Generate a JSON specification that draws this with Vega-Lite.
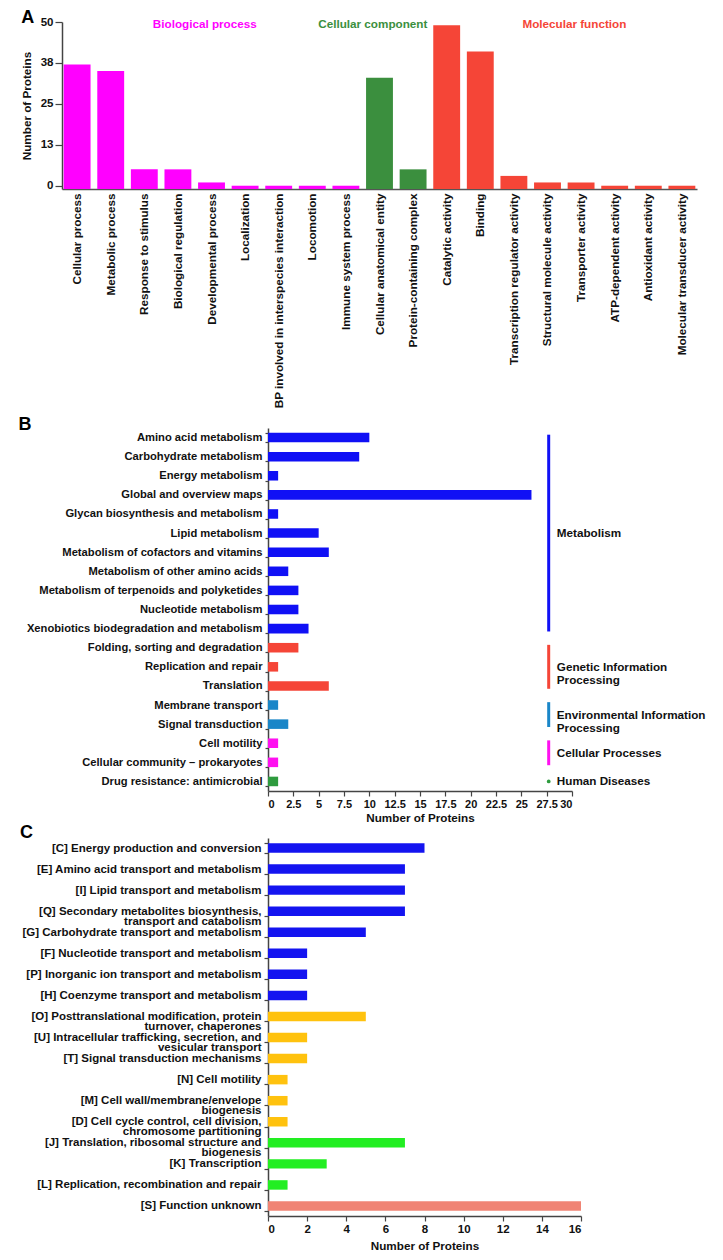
{
  "$schema": "https://vega.github.io/schema/vega-lite/v6.json",
  "padding": {"left": 18, "top": 9, "right": 4, "bottom": 4},
  "spacing": 8,
  "resolve": {"scale": {"color": "independent", "x": "independent", "y": "independent"}},
  "config": {
    "font": "Liberation Sans",
    "view": {"stroke": null},
    "axis": {
      "grid": false,
      "labelFont": "Liberation Sans",
      "labelFontWeight": "bold",
      "labelFontSize": 11.5,
      "labelColor": "#111111",
      "labelLimit": 400,
      "titleFont": "Liberation Sans",
      "titleFontWeight": "bold",
      "titleFontSize": 11.7,
      "titleColor": "#111111",
      "domainColor": "#444444",
      "tickColor": "#444444",
      "domainWidth": 1.5,
      "tickWidth": 1.2
    },
    "title": {
      "font": "Liberation Sans",
      "fontSize": 18,
      "fontWeight": "bold",
      "color": "#000000",
      "anchor": "start",
      "frame": "bounds",
      "baseline": "alphabetic"
    }
  },
  "vconcat": [
    {
      "title": {"text": "A", "offset": -11},
      "width": 635,
      "height": 167,
      "data": {
        "values": [
          {"term": "Cellular process", "count": 37, "category": "Biological process"},
          {"term": "Metabolic process", "count": 35, "category": "Biological process"},
          {"term": "Response to stimulus", "count": 5, "category": "Biological process"},
          {"term": "Biological regulation", "count": 5, "category": "Biological process"},
          {"term": "Developmental process", "count": 1, "category": "Biological process"},
          {"term": "Localization", "count": 0, "category": "Biological process"},
          {"term": "BP involved in interspecies interaction", "count": 0, "category": "Biological process"},
          {"term": "Locomotion", "count": 0, "category": "Biological process"},
          {"term": "Immune system process", "count": 0, "category": "Biological process"},
          {"term": "Cellular anatomical entity", "count": 33, "category": "Cellular component"},
          {"term": "Protein-containing complex", "count": 5, "category": "Cellular component"},
          {"term": "Catalytic activity", "count": 49, "category": "Molecular function"},
          {"term": "Binding", "count": 41, "category": "Molecular function"},
          {"term": "Transcription regulator activity", "count": 3, "category": "Molecular function"},
          {"term": "Structural molecule activity", "count": 1, "category": "Molecular function"},
          {"term": "Transporter activity", "count": 1, "category": "Molecular function"},
          {"term": "ATP-dependent activity", "count": 0, "category": "Molecular function"},
          {"term": "Antioxidant activity", "count": 0, "category": "Molecular function"},
          {"term": "Molecular transducer activity", "count": 0, "category": "Molecular function"}
        ]
      },
      "encoding": {
        "x": {
          "field": "term",
          "type": "nominal",
          "scale": {
            "domain": ["Cellular process", "Metabolic process", "Response to stimulus", "Biological regulation", "Developmental process", "Localization", "BP involved in interspecies interaction", "Locomotion", "Immune system process", "Cellular anatomical entity", "Protein-containing complex", "Catalytic activity", "Binding", "Transcription regulator activity", "Structural molecule activity", "Transporter activity", "ATP-dependent activity", "Antioxidant activity", "Molecular transducer activity"],
            "paddingInner": 0.2,
            "paddingOuter": 0.05
          },
          "axis": {"title": null, "labelAngle": -90, "ticks": false, "tickSize": 0, "labelPadding": 4, "labelFontSize": 11.7, "domainColor": "#555555"}
        },
        "color": {
          "field": "category",
          "type": "nominal",
          "scale": {"domain": ["Biological process", "Cellular component", "Molecular function"], "range": ["#FF00FF", "#3B8F3E", "#F54537"]},
          "legend": null
        }
      },
      "layer": [
        {
          "mark": {"type": "bar"},
          "encoding": {
            "y": {
              "field": "count",
              "type": "quantitative",
              "scale": {"domain": [-1, 50], "nice": false, "zero": false},
              "axis": {"values": [0, 12.5, 25, 37.5, 50], "format": ".0f", "title": "Number of Proteins", "tickSize": 7, "labelPadding": 2, "titlePadding": 8}
            },
            "y2": {"datum": -1}
          }
        },
        {
          "data": {
            "values": [
              {"category": "Biological process", "anchor": "Developmental process"},
              {"category": "Cellular component", "anchor": "Cellular anatomical entity"},
              {"category": "Molecular function", "anchor": "Transporter activity"}
            ]
          },
          "mark": {"type": "text", "fontSize": 11.7, "fontWeight": "bold", "baseline": "middle", "align": "center"},
          "encoding": {
            "x": {"field": "anchor", "type": "nominal", "bandPosition": 0.25},
            "y": {"datum": 49.5},
            "text": {"field": "category"}
          }
        }
      ]
    },
    {
      "spacing": -45,
      "resolve": {"scale": {"color": "independent", "x": "independent", "y": "independent"}},
      "hconcat": [
        {
          "width": 1,
          "height": 1,
          "data": {"values": [{"spacer": 1}]},
          "mark": {"type": "point", "opacity": 0, "size": 1}
        },
        {
          "spacing": 0,
          "resolve": {"scale": {"color": "independent", "x": "independent", "y": "independent"}},
          "vconcat": [
            {
              "title": {"text": "B", "offset": -12, "dx": -8},
              "width": 304,
              "height": 363,
              "layer": [
                {
                  "data": {
                    "values": [
                      {"term": "Amino acid metabolism", "count": 10, "group": "Metabolism"},
                      {"term": "Carbohydrate metabolism", "count": 9, "group": "Metabolism"},
                      {"term": "Energy metabolism", "count": 1, "group": "Metabolism"},
                      {"term": "Global and overview maps", "count": 26, "group": "Metabolism"},
                      {"term": "Glycan biosynthesis and metabolism", "count": 1, "group": "Metabolism"},
                      {"term": "Lipid metabolism", "count": 5, "group": "Metabolism"},
                      {"term": "Metabolism of cofactors and vitamins", "count": 6, "group": "Metabolism"},
                      {"term": "Metabolism of other amino acids", "count": 2, "group": "Metabolism"},
                      {"term": "Metabolism of terpenoids and polyketides", "count": 3, "group": "Metabolism"},
                      {"term": "Nucleotide metabolism", "count": 3, "group": "Metabolism"},
                      {"term": "Xenobiotics biodegradation and metabolism", "count": 4, "group": "Metabolism"},
                      {"term": "Folding, sorting and degradation", "count": 3, "group": "Genetic Information Processing"},
                      {"term": "Replication and repair", "count": 1, "group": "Genetic Information Processing"},
                      {"term": "Translation", "count": 6, "group": "Genetic Information Processing"},
                      {"term": "Membrane transport", "count": 1, "group": "Environmental Information Processing"},
                      {"term": "Signal transduction", "count": 2, "group": "Environmental Information Processing"},
                      {"term": "Cell motility", "count": 1, "group": "Cellular Processes"},
                      {"term": "Cellular community – prokaryotes", "count": 1, "group": "Cellular Processes"},
                      {"term": "Drug resistance: antimicrobial", "count": 1, "group": "Human Diseases"}
                    ]
                  },
                  "mark": {"type": "bar"},
                  "encoding": {
                    "y": {
                      "field": "term",
                      "type": "nominal",
                      "scale": {
                        "domain": ["Amino acid metabolism", "Carbohydrate metabolism", "Energy metabolism", "Global and overview maps", "Glycan biosynthesis and metabolism", "Lipid metabolism", "Metabolism of cofactors and vitamins", "Metabolism of other amino acids", "Metabolism of terpenoids and polyketides", "Nucleotide metabolism", "Xenobiotics biodegradation and metabolism", "Folding, sorting and degradation", "Replication and repair", "Translation", "Membrane transport", "Signal transduction", "Cell motility", "Cellular community – prokaryotes", "Drug resistance: antimicrobial"],
                        "paddingInner": 0.5,
                        "paddingOuter": 0.25
                      },
                      "axis": {"title": null, "tickBand": "extent", "tickSize": 3, "labelPadding": 3, "labelFontSize": 11.2}
                    },
                    "x": {
                      "field": "count",
                      "type": "quantitative",
                      "scale": {"domain": [0, 30], "nice": false},
                      "axis": {"values": [0, 2.5, 5, 7.5, 10, 12.5, 15, 17.5, 20, 22.5, 25, 27.5, 30], "labelExpr": "'' + datum.value", "labelOverlap": false, "tickSize": 5, "labelPadding": 2, "labelFontSize": 11, "title": "Number of Proteins", "titlePadding": 3}
                    },
                    "color": {
                      "field": "group",
                      "type": "nominal",
                      "scale": {"domain": ["Metabolism", "Genetic Information Processing", "Environmental Information Processing", "Cellular Processes", "Human Diseases"], "range": ["#1010F5", "#F54537", "#1A86C8", "#FF10F0", "#2E9B3E"]},
                      "legend": null
                    }
                  }
                },
                {
                  "data": {
                    "values": [
                      {"group": "Metabolism", "first": "Amino acid metabolism", "last": "Xenobiotics biodegradation and metabolism"},
                      {"group": "Genetic Information Processing", "first": "Folding, sorting and degradation", "last": "Translation"},
                      {"group": "Environmental Information Processing", "first": "Membrane transport", "last": "Signal transduction"},
                      {"group": "Cellular Processes", "first": "Cell motility", "last": "Cellular community – prokaryotes"}
                    ]
                  },
                  "mark": {"type": "rule", "strokeWidth": 3},
                  "encoding": {
                    "x": {"datum": 27.7, "type": "quantitative", "axis": {"values": [0, 2.5, 5, 7.5, 10, 12.5, 15, 17.5, 20, 22.5, 25, 27.5, 30], "labelExpr": "'' + datum.value", "labelOverlap": false, "tickSize": 5, "labelPadding": 2, "labelFontSize": 11, "title": "Number of Proteins", "titlePadding": 3}},
                    "y": {"field": "first", "type": "nominal", "bandPosition": 0.2},
                    "y2": {"field": "last", "bandPosition": 0.8},
                    "color": {"field": "group", "type": "nominal"}
                  }
                },
                {
                  "data": {"values": [{"group": "Human Diseases", "row": "Drug resistance: antimicrobial"}]},
                  "mark": {"type": "point", "filled": true, "size": 14, "opacity": 1},
                  "encoding": {
                    "x": {"datum": 27.7, "type": "quantitative", "axis": {"values": [0, 2.5, 5, 7.5, 10, 12.5, 15, 17.5, 20, 22.5, 25, 27.5, 30], "labelExpr": "'' + datum.value", "labelOverlap": false, "tickSize": 5, "labelPadding": 2, "labelFontSize": 11, "title": "Number of Proteins", "titlePadding": 3}},
                    "y": {"field": "row", "type": "nominal"},
                    "color": {"field": "group", "type": "nominal"}
                  }
                },
                {
                  "data": {
                    "values": [
                      {"row": "Lipid metabolism", "label": ["Metabolism"]},
                      {"row": "Replication and repair", "label": ["Genetic Information", "Processing"]},
                      {"row": "Drug resistance: antimicrobial", "label": ["Human Diseases"]}
                    ]
                  },
                  "mark": {"type": "text", "align": "left", "baseline": "middle", "fontSize": 11.7, "fontWeight": "bold", "lineHeight": 13, "color": "#111111"},
                  "encoding": {
                    "x": {"datum": 28.5, "type": "quantitative", "axis": {"values": [0, 2.5, 5, 7.5, 10, 12.5, 15, 17.5, 20, 22.5, 25, 27.5, 30], "labelExpr": "'' + datum.value", "labelOverlap": false, "tickSize": 5, "labelPadding": 2, "labelFontSize": 11, "title": "Number of Proteins", "titlePadding": 3}},
                    "y": {"field": "row", "type": "nominal"},
                    "text": {"field": "label"}
                  }
                },
                {
                  "data": {
                    "values": [
                      {"row": "Membrane transport", "label": ["Environmental Information", "Processing"]},
                      {"row": "Cell motility", "label": ["Cellular Processes"]}
                    ]
                  },
                  "mark": {"type": "text", "align": "left", "baseline": "middle", "fontSize": 11.7, "fontWeight": "bold", "lineHeight": 13, "color": "#111111"},
                  "encoding": {
                    "x": {"datum": 28.5, "type": "quantitative", "axis": {"values": [0, 2.5, 5, 7.5, 10, 12.5, 15, 17.5, 20, 22.5, 25, 27.5, 30], "labelExpr": "'' + datum.value", "labelOverlap": false, "tickSize": 5, "labelPadding": 2, "labelFontSize": 11, "title": "Number of Proteins", "titlePadding": 3}},
                    "y": {"field": "row", "type": "nominal", "bandPosition": 1.5},
                    "text": {"field": "label"}
                  }
                }
              ]
            },
            {
              "title": {"text": "C", "offset": -10, "dx": -2},
              "width": 313,
              "height": 378,
              "data": {
                "values": [
                  {"term": "[C] Energy production and conversion", "count": 8, "group": "Metabolism"},
                  {"term": "[E] Amino acid transport and metabolism", "count": 7, "group": "Metabolism"},
                  {"term": "[I] Lipid transport and metabolism", "count": 7, "group": "Metabolism"},
                  {"term": "[Q] Secondary metabolites biosynthesis, transport and catabolism", "count": 7, "group": "Metabolism"},
                  {"term": "[G] Carbohydrate transport and metabolism", "count": 5, "group": "Metabolism"},
                  {"term": "[F] Nucleotide transport and metabolism", "count": 2, "group": "Metabolism"},
                  {"term": "[P] Inorganic ion transport and metabolism", "count": 2, "group": "Metabolism"},
                  {"term": "[H] Coenzyme transport and metabolism", "count": 2, "group": "Metabolism"},
                  {"term": "[O] Posttranslational modification, protein turnover, chaperones", "count": 5, "group": "Cellular processes and signaling"},
                  {"term": "[U] Intracellular trafficking, secretion, and vesicular transport", "count": 2, "group": "Cellular processes and signaling"},
                  {"term": "[T] Signal transduction mechanisms", "count": 2, "group": "Cellular processes and signaling"},
                  {"term": "[N] Cell motility", "count": 1, "group": "Cellular processes and signaling"},
                  {"term": "[M] Cell wall/membrane/envelope biogenesis", "count": 1, "group": "Cellular processes and signaling"},
                  {"term": "[D] Cell cycle control, cell division, chromosome partitioning", "count": 1, "group": "Cellular processes and signaling"},
                  {"term": "[J] Translation, ribosomal structure and biogenesis", "count": 7, "group": "Information storage and processing"},
                  {"term": "[K] Transcription", "count": 3, "group": "Information storage and processing"},
                  {"term": "[L] Replication, recombination and repair", "count": 1, "group": "Information storage and processing"},
                  {"term": "[S] Function unknown", "count": 16, "group": "Poorly characterized"}
                ]
              },
              "mark": {"type": "bar"},
              "encoding": {
                "y": {
                  "field": "term",
                  "type": "nominal",
                  "sort": null,
                  "scale": {"paddingInner": 0.55, "paddingOuter": 0.25},
                  "axis": {
                    "title": null,
                    "tickBand": "extent",
                    "tickSize": 4,
                    "labelPadding": 3,
                    "labelLineHeight": 10,
                    "labelExpr": "datum.label == '[Q] Secondary metabolites biosynthesis, transport and catabolism' ? ['[Q] Secondary metabolites biosynthesis,', 'transport and catabolism'] : datum.label == '[O] Posttranslational modification, protein turnover, chaperones' ? ['[O] Posttranslational modification, protein', 'turnover, chaperones'] : datum.label == '[U] Intracellular trafficking, secretion, and vesicular transport' ? ['[U] Intracellular trafficking, secretion, and', 'vesicular transport'] : datum.label == '[M] Cell wall/membrane/envelope biogenesis' ? ['[M] Cell wall/membrane/envelope', 'biogenesis'] : datum.label == '[D] Cell cycle control, cell division, chromosome partitioning' ? ['[D] Cell cycle control, cell division,', 'chromosome partitioning'] : datum.label == '[J] Translation, ribosomal structure and biogenesis' ? ['[J] Translation, ribosomal structure and', 'biogenesis'] : datum.label"
                  }
                },
                "x": {
                  "field": "count",
                  "type": "quantitative",
                  "scale": {"domain": [0, 16], "nice": false},
                  "axis": {"values": [0, 2, 4, 6, 8, 10, 12, 14, 16], "labelOverlap": false, "tickSize": 5, "labelPadding": 2, "title": "Number of Proteins", "titlePadding": 6}
                },
                "color": {
                  "field": "group",
                  "type": "nominal",
                  "scale": {"domain": ["Metabolism", "Cellular processes and signaling", "Information storage and processing", "Poorly characterized"], "range": ["#1414F0", "#FFC20E", "#22EE22", "#F08474"]},
                  "legend": null
                }
              }
            }
          ]
        }
      ]
    }
  ]
}
